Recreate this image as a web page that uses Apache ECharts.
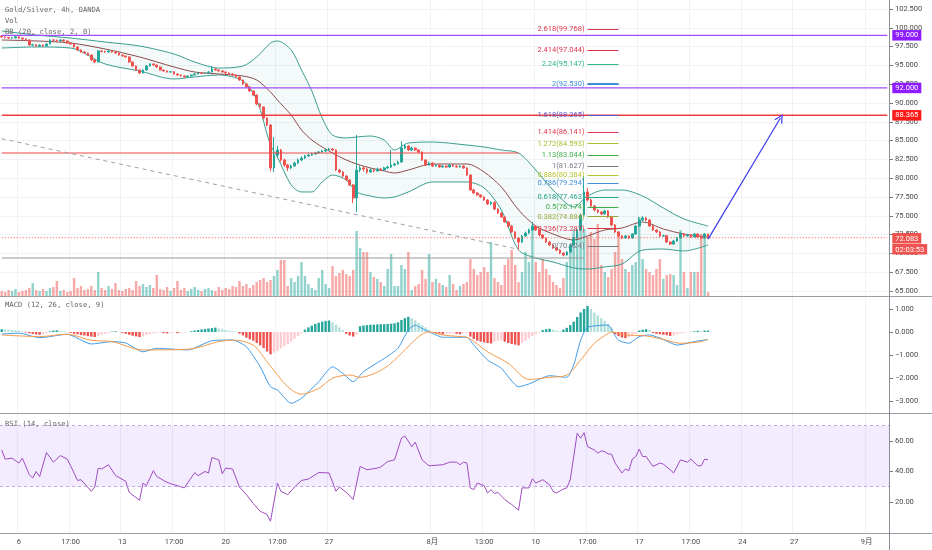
<!DOCTYPE html>
<html>
<head>
<meta charset="utf-8">
<title>Gold/Silver, 4h, OANDA</title>
<script src="https://cdn.jsdelivr.net/npm/echarts@6.0.0/dist/echarts.min.js"></script>
<style>
  html, body { margin: 0; padding: 0; background: #fff; }
  #main { width: 932px; height: 550px; }
</style>
</head>
<body>
<div id="main"></div>
<script>
// bar slots on the time axis: history + empty space on the right
var slotCount = 258;

// tick labels of the time axis [slot, text]
var timeTicks = [
  [5, '6'], [20, '17:00'], [35, '13'], [50, '17:00'], [65, '20'], [80, '17:00'], [95, '27'],
  [125, '8月'], [140, '13:00'], [155, '10'], [170, '17:00'], [185, '17'], [200, '17:00'],
  [215, '24'], [230, '27'], [251, '9月']
];

// 4h candles [open, close, low, high]
var candles = [
  [98.91,98.78,98.66,99.02],[98.78,98.70,98.58,98.88],[98.70,98.64,98.52,98.80],[98.64,98.66,98.54,98.78],
  [98.66,98.80,98.60,98.92],[98.80,98.64,98.55,98.88],[98.64,98.51,98.42,98.70],[98.51,98.38,98.28,98.60],
  [98.38,97.71,97.60,98.45],[97.71,97.75,97.60,97.88],[97.75,97.58,97.45,97.82],[97.58,97.71,97.50,97.80],
  [97.71,97.58,97.48,97.78],[97.58,97.85,97.52,97.95],[97.85,98.38,97.80,98.48],[98.38,98.35,98.25,98.50],
  [98.35,98.25,98.15,98.42],[98.25,98.38,98.18,98.46],[98.38,98.25,98.16,98.45],[98.25,97.98,97.90,98.30],
  [97.98,97.85,97.75,98.05],[97.85,97.45,97.36,97.92],[97.45,97.05,96.95,97.52],[97.05,96.78,96.68,97.12],
  [96.78,96.65,96.55,96.88],[96.65,96.38,96.28,96.72],[96.38,95.72,95.60,96.45],[95.72,95.45,95.30,95.80],
  [95.45,96.92,95.40,97.05],[96.92,96.85,96.75,97.00],[96.85,96.78,96.68,96.95],[96.78,96.92,96.70,97.02],
  [96.92,96.78,96.70,97.00],[96.78,96.65,96.55,96.85],[96.65,96.38,96.30,96.72],[96.38,96.25,96.15,96.45],
  [96.25,96.12,96.02,96.32],[96.12,95.45,95.35,96.20],[95.45,94.92,94.80,95.52],[94.92,94.39,94.25,95.00],
  [94.39,93.99,93.85,94.45],[93.99,94.39,93.92,94.48],[94.39,94.92,94.32,95.02],[94.92,95.19,94.85,95.30],
  [95.19,95.05,94.95,95.28],[95.05,94.79,94.70,95.12],[94.79,94.39,94.30,94.85],[94.39,94.26,94.15,94.45],
  [94.26,94.12,94.02,94.32],[94.12,94.15,94.04,94.25],[94.15,93.86,93.78,94.22],[93.86,93.72,93.62,93.92],
  [93.72,93.59,93.50,93.80],[93.59,93.46,93.36,93.66],[93.46,93.59,93.38,93.68],[93.59,93.72,93.52,93.80],
  [93.72,93.86,93.65,93.95],[93.86,93.99,93.80,94.08],[93.99,93.95,93.86,94.06],[93.95,93.99,93.88,94.08],
  [93.99,94.12,93.92,94.20],[94.12,94.52,94.05,94.92],[94.52,94.39,94.30,94.60],[94.39,94.26,94.18,94.48],
  [94.26,94.12,94.04,94.34],[94.12,93.99,93.90,94.20],[93.99,93.86,93.76,94.06],[93.86,93.72,93.62,93.94],
  [93.72,93.46,93.36,93.80],[93.46,93.06,92.95,93.52],[93.06,92.53,92.40,93.12],[92.53,92.13,92.00,92.62],
  [92.13,91.60,91.48,92.20],[91.60,91.06,90.92,91.68],[91.06,89.87,89.70,91.12],[89.87,89.47,89.30,89.98],
  [89.47,88.00,87.85,89.55],[88.00,87.07,86.90,88.10],[87.07,81.36,80.90,87.20],[81.36,83.08,80.82,85.48],
  [83.08,83.75,82.80,84.30],[83.75,82.42,82.20,83.90],[82.42,81.75,81.50,82.60],[81.75,81.36,80.95,81.90],
  [81.36,81.62,81.20,81.80],[81.62,82.02,81.50,82.20],[82.02,82.42,81.90,82.60],[82.42,82.68,82.30,82.90],
  [82.68,82.95,82.55,83.10],[82.95,83.08,82.85,83.25],[83.08,83.22,82.98,83.38],[83.22,83.35,83.10,83.50],
  [83.35,83.48,83.25,83.62],[83.48,83.62,83.38,83.80],[83.62,83.75,83.50,83.92],[83.75,83.88,83.62,84.05],
  [83.88,83.75,83.60,84.02],[83.75,81.09,80.95,83.85],[81.09,80.82,80.65,81.25],[80.82,80.29,80.12,80.95],
  [80.29,79.76,79.60,80.40],[79.76,79.10,78.95,79.88],[79.10,77.37,76.70,79.20],[77.37,81.09,75.50,85.74],
  [81.09,81.36,80.80,81.70],[81.36,81.22,80.90,81.60],[81.22,80.82,80.60,81.40],[80.82,81.09,80.70,81.30],
  [81.09,80.96,80.80,81.20],[80.96,81.22,80.85,81.40],[81.22,81.09,80.95,81.35],[81.09,81.36,81.00,81.50],
  [81.36,81.49,81.25,81.65],[81.49,81.75,81.35,83.75],[81.75,81.89,81.60,82.05],[81.89,82.15,81.80,82.35],
  [82.15,84.01,82.05,84.94],[84.01,84.28,83.85,84.55],[84.28,83.75,83.60,84.40],[83.75,84.01,83.60,84.20],
  [84.01,83.75,83.62,84.12],[83.75,83.48,83.35,83.85],[83.48,82.42,82.30,83.55],[82.42,81.75,81.60,82.50],
  [81.75,82.02,81.65,82.20],[82.02,81.62,81.50,82.10],[81.62,81.75,81.52,81.88],[81.75,81.49,81.38,81.82],
  [81.49,81.62,81.40,81.72],[81.62,81.49,81.38,81.70],[81.49,81.75,81.40,81.85],[81.75,81.62,81.52,81.82],
  [81.62,81.49,81.40,81.70],[81.49,81.62,81.40,81.72],[81.62,81.36,81.25,81.70],[81.36,80.42,80.30,81.45],
  [80.42,78.43,78.30,80.50],[78.43,78.03,77.90,78.60],[78.03,77.77,77.65,78.15],[77.77,77.50,77.38,77.88],
  [77.50,77.10,76.98,77.60],[77.10,76.57,76.45,77.20],[76.57,76.80,76.40,76.95],[76.80,75.90,75.75,76.90],
  [75.90,75.37,75.25,76.00],[75.37,74.84,74.70,75.45],[74.84,74.18,74.05,74.95],[74.18,73.64,73.50,74.28],
  [73.64,72.85,72.70,73.75],[72.85,72.05,71.90,72.95],[72.05,71.51,70.45,72.15],[71.51,72.31,71.40,72.45],
  [72.31,72.71,72.20,72.90],[72.71,73.11,72.60,73.30],[73.11,73.64,72.98,74.18],[73.64,73.11,73.00,73.75],
  [73.11,72.45,72.30,73.20],[72.45,72.05,71.90,72.55],[72.05,71.51,71.38,72.15],[71.51,71.12,71.00,71.62],
  [71.12,70.72,70.60,71.25],[70.72,70.45,70.30,70.85],[70.45,70.05,69.90,70.55],[70.05,69.79,69.60,70.15],
  [69.79,70.19,69.70,70.30],[70.19,71.12,70.10,71.25],[71.12,72.05,71.00,72.20],[72.05,73.11,71.95,73.30],
  [73.11,75.10,73.00,75.30],[75.10,78.17,75.00,80.29],[78.17,77.10,76.90,78.70],[77.10,76.30,76.10,77.30],
  [76.30,75.77,75.60,76.45],[75.77,75.50,75.35,75.90],[75.50,75.24,75.10,75.65],[75.24,75.64,75.15,75.80],
  [75.64,74.84,74.70,75.75],[74.84,73.78,73.60,74.95],[73.78,72.85,72.70,73.90],[72.85,72.31,72.15,72.95],
  [72.31,72.05,71.90,72.45],[72.05,72.31,71.95,72.45],[72.31,72.05,71.90,72.40],[72.05,72.58,71.95,72.70],
  [72.58,73.64,72.50,73.80],[73.64,74.44,73.55,74.85],[74.44,74.71,74.30,74.95],[74.71,74.44,74.30,74.85],
  [74.44,73.64,73.50,74.55],[73.64,73.11,72.98,73.75],[73.11,72.85,72.70,73.25],[72.85,72.31,72.15,72.95],
  [72.31,72.35,72.20,72.50],[72.35,71.51,71.38,72.45],[71.51,71.25,71.10,71.62],[71.25,71.65,71.12,71.80],
  [71.65,72.05,71.55,72.20],[72.05,72.58,71.95,72.75],[72.58,72.31,72.20,72.70],[72.31,72.45,72.20,72.60],
  [72.45,72.18,72.05,72.55],[72.18,72.58,72.10,72.70],[72.58,72.18,72.05,72.68],[72.18,72.05,71.90,72.30],
  [72.05,72.58,71.95,72.70],[72.58,72.08,72.00,72.62]
];

// volume per bar (relative units)
var volumes = [
  5,4,6,5,7,4,5,6,8,13, 6,5,7,5,8,9,15,5,6,4, 5,18,8,10,6,7,10,6,24,8,
  6,10,7,13,6,5,7,8,6,15, 10,12,9,11,8,21,7,6,9,5, 8,15,6,8,5,7,9,6,5,7,
  8,6,5,9,6,8,7,10,9,15, 10,12,8,11,14,16,18,14,16,20, 26,36,36,10,18,14,20,34,20,12,
  8,6,18,26,12,8,30,20,23,26, 22,20,26,65,48,44,44,24,19,17, 14,10,27,42,10,10,31,27,44,6,
  10,12,26,17,42,14,17,13,11,9, 21,12,6,10,12,14,37,27,21,24, 29,24,54,18,14,11,31,37,46,31,
  14,24,44,34,70,34,24,37,27,21, 14,11,8,18,34,51,67,64,81,67, 59,64,57,72,31,24,19,27,44,64,
  37,27,24,31,34,79,37,27,24,21, 27,37,17,21,22,21,11,66,24,8, 24,24,24,62,62,4
];

// Bollinger Bands (20, close, 2) read at these bars
var bbIdx   = [0, 10, 20, 30, 40, 50, 56, 63, 70, 74, 78, 80, 84, 87, 90, 93, 96, 100, 103, 107,
               111, 114, 118, 125, 135, 140, 145, 150, 155, 160, 166, 170, 175, 180, 186, 192, 198, 205];
var bbUpper = [99.58, 99.04, 98.64, 98.11, 97.58, 96.52, 95.45, 94.65, 94.92, 96.12, 97.98, 98.25, 97.05, 94.39,
               91.60, 88.01, 85.74, 85.35, 85.48, 85.61, 85.08, 83.75, 84.68, 84.81, 84.41, 84.15, 83.75, 83.35,
               81.09, 78.43, 76.17, 77.63, 78.43, 78.43, 77.63, 76.04, 74.58, 73.64];
var bbMid   = [98.38, 98.25, 97.98, 97.18, 96.12, 94.79, 94.12, 93.86, 93.59, 93.06, 91.46, 90.40, 88.40, 86.41,
               85.08, 84.15, 83.35, 82.42, 81.89, 81.36, 80.96, 80.69, 81.09, 81.89, 81.89, 80.82, 78.83, 75.77,
               73.64, 72.58, 71.78, 72.31, 73.11, 73.38, 74.18, 73.25, 72.58, 72.18];
var bbLower = [97.31, 97.45, 97.31, 95.19, 94.26, 93.19, 93.46, 93.72, 92.93, 90.40, 84.41, 82.82, 79.10, 78.17,
               78.17, 79.50, 80.42, 79.76, 78.17, 77.63, 77.37, 77.50, 78.17, 79.50, 79.50, 78.70, 75.77, 70.45,
               69.39, 68.86, 68.06, 67.92, 68.19, 68.59, 70.45, 70.58, 70.32, 71.12];

// MACD (12, 26, close, 9)
var macdHist = [
  0.12,0.11,0.10,0.09,0.08,0.06,0.04, -0.03,-0.06,-0.09,-0.11,-0.12,-0.10,-0.06,
  0.03,0.06,0.07,0.05,0.03,0.00, -0.04,-0.08,-0.10,-0.13,-0.15,-0.18,-0.20,-0.22,
  -0.17,-0.12,-0.08,-0.05, 0.02,0.03,0.01, -0.04,-0.08,-0.12,-0.16,-0.19,-0.22,
  -0.18,-0.13,-0.09,-0.06,-0.04,-0.03, -0.05,-0.06,-0.04,-0.03,-0.05,-0.04,-0.02,0.00,
  0.03,0.06,0.09,0.11,0.13,0.15,0.17,0.19, 0.15,0.12,0.09,0.06,0.04,0.02,
  -0.07,-0.15,-0.25,-0.32,-0.38,-0.48,-0.58,-0.70,-0.85,-0.97,
  -0.90,-0.82,-0.72,-0.62,-0.52,-0.42,-0.30,-0.18,-0.06,
  0.10,0.20,0.28,0.35,0.40,0.45,0.48,0.50, 0.42,0.32,0.20,0.08, -0.08,-0.15,-0.20,-0.12,
  0.25,0.28,0.30,0.31,0.32,0.33,0.34,0.34,0.35,0.36,0.38,0.42, 0.52,0.60,0.66,
  0.60,0.50,0.40,0.30,0.20,0.10,0.02,
  -0.04,-0.07,-0.10,-0.08,-0.06,-0.05,-0.08,-0.10,-0.06,-0.05,
  -0.20,-0.30,-0.38,-0.42,-0.45,-0.48,-0.50, -0.42,-0.38,-0.36, -0.42,-0.48,-0.52,-0.55,-0.58,
  -0.48,-0.38,-0.28,-0.18,-0.10,-0.03, 0.08,0.12,0.14, 0.10,0.06,0.03,
  0.10,0.18,0.30,0.45,0.65,0.85,1.00,1.13, 1.00,0.85,0.72,0.60,0.48,0.35,0.20,
  -0.10,-0.18,-0.24,-0.27,-0.22,-0.15,-0.08, 0.06,0.10,0.12,0.09,
  -0.05,-0.08,-0.10,-0.12,-0.14,-0.17,-0.15,-0.10, -0.06,-0.04,-0.02,0.01, 0.03,0.05,0.04,0.06,0.06
];
var macdLine = [
  [0,-0.09],[5,-0.05],[11,-0.25],[19,-0.10],[26,-0.52],[32,-0.42],[36,-0.48],[41,-0.86],[45,-0.71],
  [54,-0.78],[61,-0.38],[67,-0.35],[71,-0.64],[75,-1.51],[78,-2.38],[80,-2.52],[84,-3.10],[87,-2.88],
  [92,-2.16],[96,-1.51],[99,-1.80],[102,-2.16],[105,-1.72],[111,-1.15],[115,-0.71],[118,0.09],[120,0.30],
  [122,0.15],[125,-0.06],[128,-0.23],[133,-0.23],[135,-0.23],[137,-0.57],[141,-1.22],[145,-1.58],
  [150,-2.38],[153,-2.26],[159,-1.90],[164,-1.97],[166,-1.43],[168,-0.36],[170,0.20],[176,0.30],
  [177,0.09],[179,-0.36],[182,-0.49],[185,-0.20],[188,-0.13],[192,-0.32],[196,-0.57],[201,-0.42],[205,-0.32]
];
var signalLine = [
  [0,-0.13],[11,-0.20],[19,-0.10],[26,-0.36],[32,-0.42],[41,-0.78],[54,-0.75],[63,-0.42],[67,-0.35],
  [73,-0.57],[77,-1.29],[83,-2.38],[87,-2.70],[92,-2.45],[96,-2.01],[101,-1.87],[104,-1.97],[111,-1.58],
  [116,-0.93],[121,-0.20],[124,0.00],[128,-0.13],[133,-0.20],[135,-0.23],[141,-0.86],[147,-1.36],
  [153,-2.06],[159,-1.97],[164,-1.87],[168,-1.22],[172,-0.49],[176,-0.06],[177,0.00],[181,-0.13],
  [187,-0.17],[193,-0.36],[197,-0.49],[203,-0.42],[205,-0.32]
];

// RSI (14, close)
var rsiLine = [
  [0,54.1],[1,48.1],[3,48.7],[5,45.5],[6,48.7],[8,37.9],[9,35.7],[10,40],[11,36.7],[13,52.4],[15,46.1],
  [17,50.4],[19,48.1],[20,43.7],[22,34.1],[23,34.6],[26,27],[27,29.8],[28,42.2],[29,41.6],[31,44.4],
  [33,37.4],[36,33.5],[37,26.3],[40,21.1],[41,32.4],[42,30.7],[44,40.5],[45,36.7],[48,32.8],[49,32],
  [53,29.2],[56,39.3],[57,37.2],[59,40],[60,39],[61,49.1],[63,47.6],[64,38.5],[65,42.2],[67,41.6],
  [69,29.8],[71,24.8],[73,19],[75,13.9],[77,11.8],[78,7.4],[80,32.4],[81,27],[83,24.8],[85,29.8],
  [87,34.1],[89,35],[92,39.3],[95,39],[97,27],[98,29.8],[100,26.3],[102,21.6],[104,43.3],[106,41.1],
  [109,42.2],[110,42.9],[112,46.5],[114,47.6],[116,61.8],[117,63.3],[119,56.3],[120,59.2],[122,47.6],
  [124,43.7],[128,44.4],[130,46.1],[132,46.1],[133,44.4],[134,46.1],[135,45.5],[136,29.2],[137,28.1],
  [138,32.4],[140,30.7],[141,25.9],[142,28.1],[143,25.5],[144,26.3],[146,21.6],[148,18.3],[150,14.6],
  [151,29.2],[153,29.2],[154,35.2],[155,32.4],[157,34.6],[159,31.3],[160,27],[161,25.9],[163,28.5],
  [164,29.2],[165,34.6],[166,49.8],[167,65],[168,61.8],[169,65.4],[170,56.3],[172,54.1],[173,52],
  [174,53.5],[175,53],[176,51.5],[177,51.3],[178,45.5],[180,39],[181,41.6],[182,40.5],[183,48.1],
  [184,49.8],[185,54.6],[186,49.8],[187,49.8],[189,43.3],[191,45.5],[192,44.8],[194,41.1],[195,39],
  [197,47.6],[199,46.1],[200,48.1],[202,43.7],[203,43.7],[204,48.1],[205,47.6]
];

// Fibonacci extension levels
var fibRatios = ['2.618','2.414','2.24','2','1.618','1.414','1.272','1.13','1','0.886','0.786','0.618','0.5','0.382','0.236','0'];
var fibPrices = [99.768, 97.044, 95.147, 92.530, 88.365, 86.141, 84.593, 83.044, 81.627, 80.384, 79.294, 77.463, 76.174, 74.884, 73.287, 70.924];
var fibColors = ['#e0364a','#e0364a','#2fb98c','#3d8fd6','#5e55c7','#e0364a','#a8c22f','#3fae49','#787b86','#b8c530','#3d8fd6','#26a68a','#3fae49','#9aa63a','#e0364a','#787b86'];
var fibFrom = 170, fibTo = 179;

// drawn horizontal levels and trend lines
var purpleLevels = [99, 92];
var redLevel = 88.365;
var lastPrice = 72.083;
var countdown = '02:03:53';
var resistance = [[0, 83.35], [150, 83.35]];
var support = [[0, 69.39], [169, 69.39]];
var trendLine = [[0, 85.25], [150, 70.54]];
var projection = [[205, 71.9], [226, 88.0]];

var FONT = 'Roboto, "Noto Sans CJK SC", sans-serif';
var MONO = 'DejaVu Sans Mono';
var AXIS_TXT = '#4a4a4a';
var GRID_C = '#f0f2f6';

var labelMap = {};
timeTicks.forEach(function (t) { labelMap[t[0]] = t[1]; });
var slots = [];
for (var s = 0; s < slotCount; s++) slots.push(String(s));
function isTick(idx) { return labelMap[idx] !== undefined; }
var lastSlot = slotCount - 1;

function tagLabel(bg, text) {
  return {
    show: true, distance: 5, color: '#fff', backgroundColor: bg,
    padding: [2, 3, 1, 3], fontSize: 7.5, fontFamily: FONT, formatter: text
  };
}

// each drawing is a two-point line series so it keeps its own colour
function drawLine(name, pts, color, width, type, endLabel, z) {
  var s = {
    name: name, type: 'line', xAxisIndex: 0, yAxisIndex: 0, data: pts, silent: true,
    symbol: 'none', z: z || 4,
    lineStyle: { color: color, width: width, type: type },
    itemStyle: { color: color }
  };
  if (endLabel) s.endLabel = endLabel;
  return s;
}

var drawSeries = [
  drawLine('L99', [[0, purpleLevels[0]], [lastSlot, purpleLevels[0]]], '#a04cff', 1.2, 'solid',
    tagLabel('#8e1cff', purpleLevels[0].toFixed(3))),
  drawLine('L92', [[0, purpleLevels[1]], [lastSlot, purpleLevels[1]]], '#a04cff', 1.2, 'solid',
    tagLabel('#8e1cff', purpleLevels[1].toFixed(3))),
  drawLine('L88', [[0, redLevel], [lastSlot, redLevel]], '#f43c3c', 1.5, 'solid',
    tagLabel('#ff1a1a', redLevel.toFixed(3))),
  drawLine('Last', [[0, lastPrice], [lastSlot, lastPrice]], '#ef5350', 1, [1, 2], {
    show: true, distance: 5, offset: [0, 6],
    formatter: '{p|' + lastPrice.toFixed(3) + '}\n{t|' + countdown + '}',
    rich: {
      p: { backgroundColor: '#ef5350', color: '#fff', padding: [2, 3, 1, 3], fontSize: 7.5, fontFamily: FONT, lineHeight: 11 },
      t: { backgroundColor: '#ef5350', color: '#fff', padding: [2, 3, 1, 3], fontSize: 7.5, fontFamily: FONT, lineHeight: 11 }
    }
  }),
  drawLine('Resistance', resistance, '#f04848', 1.2, 'solid'),
  drawLine('Support', support, '#9a9a9a', 1.2, 'solid'),
  drawLine('Trend', trendLine, '#a0a0a0', 1, [4, 4]),
  {
    name: 'Projection', type: 'line', xAxisIndex: 0, yAxisIndex: 0, data: [], symbol: 'none', silent: true, z: 4,
    markLine: {
      silent: true, animation: false,
      symbol: ['none', 'path://M0,10L5,0L10,10L8.8,10.6L5,3L1.2,10.6Z'], symbolSize: 9,
      lineStyle: { color: '#3b3bf0', width: 1.2, type: 'solid' }, label: { show: false },
      data: [[{ coord: projection[0] }, { coord: projection[1] }]]
    }
  }
];

var fibLines = fibPrices.map(function (p, k) {
  return [
    {
      coord: [fibFrom, p],
      lineStyle: { color: fibColors[k], width: fibRatios[k] === '2' ? 2 : 1, type: 'solid' },
      label: {
        show: true, position: 'start', distance: 3, color: fibColors[k],
        fontSize: 7.5, fontFamily: FONT, formatter: fibRatios[k] + '(' + p.toFixed(3) + ')'
      }
    },
    { coord: [fibTo, p] }
  ];
});

var volData = volumes.map(function (v, i) {
  var up = candles[i][1] >= candles[i][0];
  return { value: v, itemStyle: { color: up ? 'rgba(38,166,154,0.5)' : 'rgba(239,83,80,0.5)' } };
});
function pairs(vals) { return bbIdx.map(function (x, k) { return [x, vals[k]]; }); }
var bandWidth = bbIdx.map(function (x, k) { return [x, +(bbUpper[k] - bbLower[k]).toFixed(2)]; });

function baseX(gridIndex, withLabels) {
  return {
    type: 'category', gridIndex: gridIndex, data: slots, boundaryGap: true,
    axisLine: { show: false }, axisTick: { show: false },
    axisLabel: withLabels ? {
      show: true, interval: function (idx) { return isTick(idx); },
      formatter: function (v, idx) { return labelMap[idx] || ''; },
      color: AXIS_TXT, fontSize: 7.5, fontFamily: FONT, margin: 5
    } : { show: false },
    splitLine: withLabels === null ? { show: false } : {
      show: true, interval: function (idx) { return isTick(idx); },
      lineStyle: { color: GRID_C, width: 1 }
    }
  };
}

function legendText(txt, top) {
  return { type: 'text', left: 5, top: top, z: 10,
    style: { text: txt, fill: '#666', fontSize: 7.2, fontFamily: MONO } };
}

var series = [
  {
    name: 'Vol', type: 'bar', xAxisIndex: 1, yAxisIndex: 1, data: volData,
    barWidth: '70%', z: 1, silent: true
  },
  {
    name: 'bbBase', type: 'line', xAxisIndex: 0, yAxisIndex: 0, data: pairs(bbLower),
    stack: 'bb', symbol: 'none', lineStyle: { opacity: 0 }, z: 1, silent: true
  },
  {
    name: 'bbBand', type: 'line', xAxisIndex: 0, yAxisIndex: 0, data: bandWidth,
    stack: 'bb', symbol: 'none', lineStyle: { opacity: 0 },
    areaStyle: { color: 'rgba(38,166,154,0.08)' }, z: 1, silent: true
  },
  {
    name: 'BB upper', type: 'line', xAxisIndex: 0, yAxisIndex: 0, data: pairs(bbUpper),
    symbol: 'none', smooth: 0.3, lineStyle: { color: '#3a9e8f', width: 1 }, z: 2, silent: true
  },
  {
    name: 'BB lower', type: 'line', xAxisIndex: 0, yAxisIndex: 0, data: pairs(bbLower),
    symbol: 'none', smooth: 0.3, lineStyle: { color: '#3a9e8f', width: 1 }, z: 2, silent: true
  },
  {
    name: 'BB basis', type: 'line', xAxisIndex: 0, yAxisIndex: 0, data: pairs(bbMid),
    symbol: 'none', smooth: 0.3, lineStyle: { color: '#8e4a4a', width: 1 }, z: 2, silent: true
  },
  {
    name: 'Gold/Silver', type: 'candlestick', xAxisIndex: 0, yAxisIndex: 0, data: candles,
    barWidth: '62%', z: 3, silent: true,
    itemStyle: { color: '#26a69a', color0: '#ef5350', borderColor: '#26a69a', borderColor0: '#ef5350', borderWidth: 1 }
  },
  {
    name: 'Fib', type: 'line', xAxisIndex: 0, yAxisIndex: 0, data: [], symbol: 'none', z: 4, silent: true,
    markLine: { silent: true, symbol: ['none', 'none'], animation: false, precision: 3, data: fibLines }
  },
  {
    name: 'Histogram', type: 'bar', xAxisIndex: 2, yAxisIndex: 2, data: macdHist, barWidth: '70%', silent: true,
    itemStyle: {
      color: function (p) {
        var v = p.value, prev = p.dataIndex > 0 ? macdHist[p.dataIndex - 1] : v;
        if (v >= 0) return v >= prev ? '#26a69a' : '#b2dfdb';
        return v <= prev ? '#ef5350' : '#ffcdd2';
      }
    }
  },
  {
    name: 'MACD', type: 'line', xAxisIndex: 2, yAxisIndex: 2, data: macdLine, symbol: 'none',
    smooth: 0.2, lineStyle: { color: '#3d9be9', width: 1 }, z: 3, silent: true
  },
  {
    name: 'Signal', type: 'line', xAxisIndex: 2, yAxisIndex: 2, data: signalLine, symbol: 'none',
    smooth: 0.3, lineStyle: { color: '#f59a4a', width: 1 }, z: 3, silent: true
  },
  {
    name: 'RSI', type: 'line', xAxisIndex: 3, yAxisIndex: 3, data: rsiLine, symbol: 'none',
    lineStyle: { color: '#a04cbf', width: 1 }, z: 3, silent: true,
    markArea: { silent: true, itemStyle: { color: 'rgba(153,102,255,0.12)' }, data: [[{ yAxis: 30 }, { yAxis: 70 }]] },
    markLine: {
      silent: true, symbol: ['none', 'none'], label: { show: false },
      lineStyle: { color: '#c3a9e3', type: [3, 3], width: 1 },
      data: [{ yAxis: 70 }, { yAxis: 30 }]
    }
  }
].concat(drawSeries);

var option = {
  animation: false,
  backgroundColor: '#ffffff',
  grid: [
    { left: 0, right: 43, top: 9, height: 282 },
    { left: 0, right: 43, top: 0, height: 296 },
    { left: 0, right: 43, top: 297, height: 116 },
    { left: 0, right: 43, top: 414, height: 119 }
  ],
  xAxis: [baseX(0, null), baseX(1, false), baseX(2, false), baseX(3, true)],
  yAxis: [
    {
      type: 'value', gridIndex: 0, position: 'right', min: 65, max: 102.5, interval: 2.5, scale: true,
      axisLine: { show: false },
      axisTick: { show: true, length: 4, lineStyle: { color: '#777' } },
      axisLabel: { color: AXIS_TXT, fontSize: 7.5, fontFamily: FONT, margin: 6,
        formatter: function (v) { return v.toFixed(3); } },
      splitLine: { show: true, lineStyle: { color: GRID_C } }
    },
    { type: 'value', gridIndex: 1, min: 0, max: 296, show: false },
    {
      type: 'value', gridIndex: 2, position: 'right', min: -3.52, max: 1.52,
      axisLine: { show: false },
      axisTick: { show: true, length: 4, customValues: [-3, -2, -1, 0, 1], lineStyle: { color: '#777' } },
      axisLabel: { customValues: [-3, -2, -1, 0, 1], color: AXIS_TXT, fontSize: 7.5, fontFamily: FONT, margin: 6,
        formatter: function (v) { return (v < 0 ? '\u2212' : '') + Math.abs(v).toFixed(3); } },
      splitLine: { show: false }
    },
    {
      type: 'value', gridIndex: 3, position: 'right', min: -0.36, max: 77.67,
      axisLine: { show: false },
      axisTick: { show: true, length: 4, customValues: [20, 40, 60], lineStyle: { color: '#777' } },
      axisLabel: { customValues: [20, 40, 60], color: AXIS_TXT, fontSize: 7.5, fontFamily: FONT, margin: 6,
        formatter: function (v) { return v.toFixed(2); } },
      splitLine: { show: false }
    }
  ],
  series: series,
  graphic: [
    { type: 'line', shape: { x1: 0, y1: 296.5, x2: 932, y2: 296.5 }, style: { stroke: '#9a9da6', lineWidth: 1 }, z: 10 },
    { type: 'line', shape: { x1: 0, y1: 413.5, x2: 932, y2: 413.5 }, style: { stroke: '#9a9da6', lineWidth: 1 }, z: 10 },
    { type: 'line', shape: { x1: 0, y1: 533.5, x2: 932, y2: 533.5 }, style: { stroke: '#9a9da6', lineWidth: 1 }, z: 10 },
    { type: 'line', shape: { x1: 889.5, y1: 0, x2: 889.5, y2: 550 }, style: { stroke: '#8a8d96', lineWidth: 1 }, z: 10 },
    legendText('Gold/Silver, 4h, OANDA', 7),
    legendText('Vol', 18),
    legendText('BB (20, close, 2, 0)', 29),
    legendText('MACD (12, 26, close, 9)', 302),
    legendText('RSI (14, close)', 421)
  ]
};

echarts.init(document.getElementById('main')).setOption(option);
</script>
</body>
</html>
